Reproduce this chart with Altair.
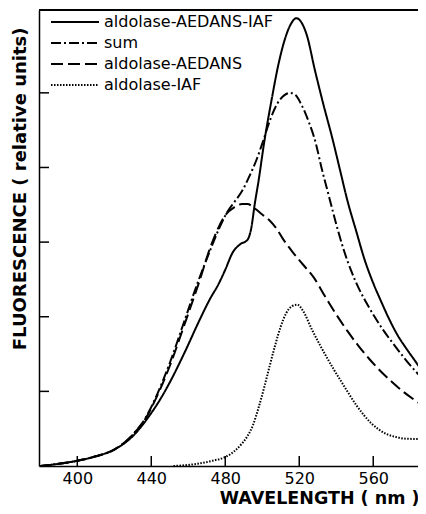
import altair as alt
import pandas as pd

series_names = ["aldolase-AEDANS-IAF", "sum", "aldolase-AEDANS", "aldolase-IAF"]

wl_solid = [380, 390, 400, 410, 420, 430, 440, 445, 450, 458, 466, 472, 476, 480, 484, 488,
            492, 494, 496, 498, 501, 505, 509, 512, 515, 518.5, 521, 524, 528.5, 533, 538,
            542, 546, 551, 555, 560, 564, 568, 573, 578, 582, 586, 590]
fl_solid = [0.00, 0.03, 0.07, 0.13, 0.22, 0.40, 0.71, 0.90, 1.12, 1.52, 1.95, 2.25, 2.42, 2.63,
            2.86, 2.97, 3.03, 3.18, 3.52, 3.82, 4.33, 4.90, 5.41, 5.70, 5.90, 6.00, 5.95, 5.78,
            5.30, 4.85, 4.38, 3.97, 3.56, 3.13, 2.79, 2.45, 2.22, 2.00, 1.76, 1.57, 1.43, 1.29, 1.17]

wl_sum = [380, 390, 400, 410, 420, 430, 437, 443, 450, 458, 465, 472, 477, 481, 485, 489, 493,
          497, 500, 504, 508, 512, 515, 518, 521, 525, 529, 532, 536, 540, 544, 548, 552, 556,
          561, 566, 572, 578, 584, 590]
fl_sum = [0.00, 0.03, 0.07, 0.13, 0.22, 0.42, 0.65, 0.95, 1.38, 1.95, 2.45, 2.90, 3.20, 3.40,
          3.54, 3.68, 3.88, 4.11, 4.32, 4.62, 4.85, 4.97, 5.00, 4.97, 4.85, 4.62, 4.32, 4.00,
          3.62, 3.24, 2.90, 2.62, 2.39, 2.20, 1.99, 1.80, 1.60, 1.41, 1.24, 1.10]

wl_aedans = [380, 390, 400, 410, 420, 430, 437, 443, 450, 458, 465, 473, 480, 485, 489, 492,
             496, 500, 504, 508, 511, 516, 522, 528, 534, 540, 546, 552, 558, 564, 570, 576,
             582, 590]
fl_aedans = [0.00, 0.03, 0.07, 0.13, 0.22, 0.42, 0.64, 0.93, 1.34, 1.90, 2.40, 3.00, 3.36, 3.47,
             3.51, 3.51, 3.45, 3.37, 3.29, 3.17, 3.05, 2.88, 2.70, 2.52, 2.27, 2.03, 1.81, 1.61,
             1.43, 1.27, 1.13, 1.00, 0.89, 0.76]

wl_iaf = [452, 458, 465, 473, 480, 485, 489, 492, 495, 498, 501, 504, 507, 510, 513, 516, 519,
          522, 527, 531, 535, 539, 543, 547, 551, 555, 559, 563, 567, 572, 578, 590]
fl_iaf = [0.00, 0.01, 0.03, 0.07, 0.12, 0.20, 0.30, 0.40, 0.55, 0.78, 1.05, 1.34, 1.62, 1.87,
          2.05, 2.14, 2.16, 2.08, 1.82, 1.63, 1.45, 1.28, 1.12, 0.96, 0.81, 0.68, 0.57, 0.49,
          0.43, 0.39, 0.365, 0.36]

x_ticks = [400, 440, 480, 520, 560]
y_ticks = [1, 2, 3, 4, 5]

rows = []
for name, wl, fl in zip(series_names,
                        [wl_solid, wl_sum, wl_aedans, wl_iaf],
                        [fl_solid, fl_sum, fl_aedans, fl_iaf]):
    for w, f in zip(wl, fl):
        rows.append({"series": name, "wavelength": w, "fluorescence": f})
df = pd.DataFrame(rows)

W, H = 379, 456
FONT = "DejaVu Sans"
x_scale = alt.Scale(domain=[379.3, 584.2], nice=False, zero=False)
y_scale = alt.Scale(domain=[0, 6.11], nice=False, zero=True)

lines = alt.Chart(df).mark_line(color="black", strokeWidth=2, clip=True,
                                interpolate="monotone", strokeCap="butt").encode(
    x=alt.X("wavelength:Q", scale=x_scale,
            axis=alt.Axis(values=x_ticks, ticks=False, grid=False, domainColor="black",
                          domainWidth=1.5, labelFontSize=16, labelFont=FONT,
                          labelColor="black", labelPadding=4, labelFlush=False,
                          title="WAVELENGTH  ( nm )", titleFontSize=17.5, titleFont=FONT,
                          titleFontWeight="bold", titleColor="black", titleX=W + 1, titleY=37,
                          titleAlign="right", titleBaseline="alphabetic")),
    y=alt.Y("fluorescence:Q", scale=y_scale,
            axis=alt.Axis(labels=False, ticks=False, grid=False, domainColor="black",
                          domainWidth=1.5, title="FLUORESCENCE  ( relative   units)",
                          titleFontSize=18, titleFont=FONT, titleFontWeight="bold",
                          titleColor="black", titleX=-14, titleY=17, titleAlign="right",
                          titleAngle=270, titleBaseline="alphabetic")),
    strokeDash=alt.StrokeDash("series:N",
                              scale=alt.Scale(domain=series_names,
                                              range=[[1, 0], [10, 3, 2, 3], [12, 5], [1.5, 1.5]]),
                              legend=alt.Legend(title=None, orient="none", legendX=28, legendY=4,
                                                symbolType="M-4,0H4", symbolSize=144,
                                                symbolStrokeColor="black", symbolStrokeWidth=2,
                                                symbolFillColor="transparent",
                                                labelFontSize=16, labelFont=FONT,
                                                labelColor="black", labelOffset=21,
                                                rowPadding=5, labelLimit=300)),
)

xtick_df = pd.DataFrame({"t": x_ticks})
ytick_df = pd.DataFrame({"t": y_ticks})

xticks = alt.Chart(xtick_df).mark_rule(color="black", strokeWidth=1.5).encode(
    x=alt.X("t:Q", scale=x_scale), y=alt.value(H), y2=alt.value(H - 10))
yticks = alt.Chart(ytick_df).mark_rule(color="black", strokeWidth=1.5).encode(
    y=alt.Y("t:Q", scale=y_scale), x=alt.value(0), x2=alt.value(10))
frame_top = alt.Chart(xtick_df).mark_rule(color="black", strokeWidth=1.5).encode(
    x=alt.value(0), x2=alt.value(W), y=alt.value(0))

chart = alt.layer(lines, xticks, yticks, frame_top).properties(
    width=W, height=H,
    autosize=alt.AutoSizeParams(type="none"),
    padding={"left": 31, "top": 2, "right": 0, "bottom": 40},
).configure_view(strokeWidth=0).configure(background="white")

chart.save("out.html", embed_options={"renderer": "svg", "actions": False})
